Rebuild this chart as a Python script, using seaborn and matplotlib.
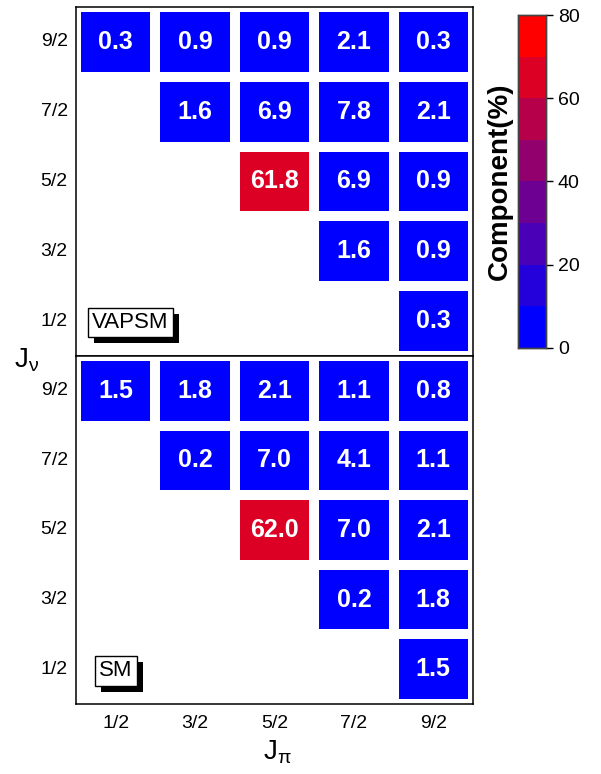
import numpy as np
import pandas as pd
import seaborn as sns
import matplotlib
matplotlib.use("Agg")
import matplotlib.pyplot as plt
import matplotlib.patheffects as pe
from matplotlib.colors import ListedColormap

# Angular momentum labels
j_pi = ["1/2", "3/2", "5/2", "7/2", "9/2"]
j_nu = ["9/2", "7/2", "5/2", "3/2", "1/2"]   # rows, top to bottom

nan = np.nan
# Component (%) of each (J_pi, J_nu) coupling
vapsm_values = [
    [0.3, 0.9, 0.9, 2.1, 0.3],
    [nan, 1.6, 6.9, 7.8, 2.1],
    [nan, nan, 61.8, 6.9, 0.9],
    [nan, nan, nan, 1.6, 0.9],
    [nan, nan, nan, nan, 0.3],
]
sm_values = [
    [1.5, 1.8, 2.1, 1.1, 0.8],
    [nan, 0.2, 7.0, 4.1, 1.1],
    [nan, nan, 62.0, 7.0, 2.1],
    [nan, nan, nan, 0.2, 1.8],
    [nan, nan, nan, nan, 1.5],
]
panel_names = ["VAPSM", "SM"]
cbar_ticks = [0, 20, 40, 60, 80]

sns.set_theme(style="white")
plt.rcParams["font.family"] = ["Liberation Sans", "DejaVu Sans"]
plt.rcParams["mathtext.fontset"] = "custom"
plt.rcParams["mathtext.rm"] = "Liberation Sans"
plt.rcParams["mathtext.it"] = "Liberation Sans"
plt.rcParams["text.color"] = "black"
plt.rcParams["axes.labelcolor"] = "black"
plt.rcParams["xtick.color"] = "black"
plt.rcParams["ytick.color"] = "black"

# eight-step blue -> red scale
n_levels = 8
colors = [(i / (n_levels - 1), 0.0, 1.0 - i / (n_levels - 1)) for i in range(n_levels)]
cmap = ListedColormap(colors)

W, H = 601, 774
fig = plt.figure(figsize=(W / 100, H / 100), dpi=100)

def px_axes(x0, y0, x1, y1):
    return fig.add_axes([x0 / W, 1 - y1 / H, (x1 - x0) / W, (y1 - y0) / H])

ax_top = px_axes(76, 7, 473, 356)
ax_bot = px_axes(76, 356, 473, 704)
cax = px_axes(518, 15, 546, 348)

frames = [pd.DataFrame(vapsm_values, index=j_nu, columns=j_pi),
          pd.DataFrame(sm_values, index=j_nu, columns=j_pi)]

for i, (ax, df, name) in enumerate(zip([ax_top, ax_bot], frames, panel_names)):
    sns.heatmap(df, ax=ax, cmap=cmap, vmin=0, vmax=80,
                annot=True, fmt=".1f",
                annot_kws=dict(color="white", fontweight="bold", fontsize=18),
                linewidths=5.8, linecolor="white",
                cbar=(i == 0), cbar_ax=cax if i == 0 else None,
                xticklabels=j_pi, yticklabels=j_nu)
    for sp in ax.spines.values():
        sp.set_visible(True)
        sp.set_color("black")
        sp.set_linewidth(1.1)
    ax.tick_params(axis="both", direction="in", length=4, width=1,
                   labelsize=14, colors="black", pad=6)
    ax.tick_params(axis="y", labelrotation=0)
    ax.tick_params(axis="x", labelrotation=0, pad=8)
    ax.set_xlabel("")
    ax.set_ylabel("")
    if i == 0:
        ax.tick_params(axis="x", labelbottom=False)

    # framed panel label with a solid drop shadow
    x_lab = 0.041 if i == 0 else 0.059
    t = ax.text(x_lab, 0.096, name, transform=ax.transAxes, fontsize=16,
                color="black", ha="left", va="center", zorder=6,
                bbox=dict(boxstyle="square,pad=0.2", fc="white", ec="black", lw=1))
    t.get_bbox_patch().set_path_effects([
        pe.withSimplePatchShadow(offset=(4.3, -4.3), shadow_rgbFace="black", alpha=1.0),
    ])

# colorbar styling
cax.set_yticks(cbar_ticks)
cax.tick_params(direction="out", length=5, width=1, labelsize=14, colors="black",
                left=False, right=True, labelleft=False, labelright=True)
cax.set_ylabel("Component(%)", fontsize=20, fontweight="bold", labelpad=4, color="black")
cax.yaxis.set_label_position("left")
for sp in cax.spines.values():
    sp.set_visible(True)
    sp.set_color("#444444")
    sp.set_linewidth(1)

fig.text(27 / W, 1 - 360 / H, r"$\mathrm{J}_{\mathrm{\nu}}$", fontsize=20,
         ha="center", va="center", color="black")
fig.text(277 / W, 1 - 752 / H, r"$\mathrm{J}_{\mathrm{\pi}}$", fontsize=20,
         ha="center", va="center", color="black")

fig.savefig("out.png", dpi=100)
